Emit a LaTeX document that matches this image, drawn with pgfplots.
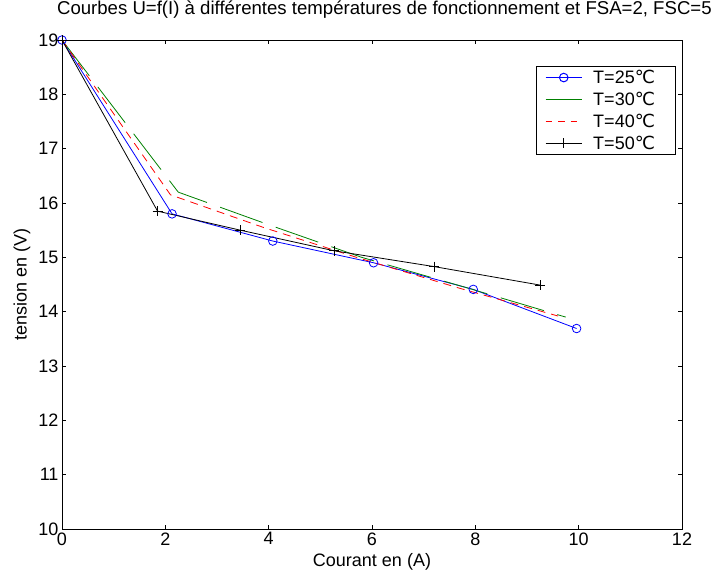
\documentclass[border=0pt]{standalone}
\usepackage{pgfplots}
\pgfplotsset{compat=1.18}
\usepackage{fontspec}
\setmainfont{Liberation Sans}
\newfontfamily\dejavu{DejaVu Sans}
\newcommand{\degC}{{\dejavu ℃}}
\definecolor{mgreen}{rgb}{0,0.5,0}
\begin{document}
\begin{tikzpicture}[font=\fontsize{18}{21}\selectfont]
\path[use as bounding box] (0pt,0pt) rectangle (722pt,579pt);
\begin{axis}[
  at={(62pt,50pt)}, anchor=south west, scale only axis,
  width=620pt, height=489pt,
  xmin=0, xmax=12, ymin=10, ymax=19,
  xtick={0,2,...,12}, ytick={10,11,...,19},
  tick align=inside, major tick length=4pt,
  axis line style={line width=0.9pt},
  every tick/.style={black, line width=0.6pt},
  /pgf/number format/assume math mode=true,
  tick label style={font=\fontsize{18}{21}\selectfont},
  label style={font=\fontsize{18}{21}\selectfont},
  xlabel={Courant en (A)}, ylabel={tension en (V)},
  xlabel style={at={(axis description cs:0.5,-0.0757)}, anchor=base},
  ylabel style={at={(axis description cs:-0.0645,0.5)}, anchor=center},
  title={Courbes U=f(I) à différentes températures de fonctionnement et FSA=2, FSC=5},
  title style={at={(axis description cs:0.52,1.0389)}, anchor=base, font=\fontsize{18.6}{22}\selectfont},
  legend style={at={(axis description cs:0.989,0.947)}, anchor=north east,
    draw=black, font=\fontsize{18}{21}\selectfont,
    row sep=3pt, inner xsep=9pt, inner ysep=2pt,
    nodes={inner xsep=11pt}},
  legend cell align=left,
  legend image code/.code={\draw[mark repeat=2,mark phase=2] plot coordinates {(0pt,0pt) (18pt,0pt) (36pt,0pt)};},
]
\addlegendimage{color=blue, draw=blue, line width=1pt, mark=o, mark size=4.3pt, mark options={solid, draw=blue}}
\addlegendentry{T=25\degC}
\addlegendimage{color=mgreen, draw=mgreen, line width=1pt}
\addlegendentry{T=30\degC}
\addlegendimage{color=red, draw=red, line width=1pt, dash pattern=on 6.5pt off 6pt}
\addlegendentry{T=40\degC}
\addlegendimage{color=black, draw=black, line width=1pt, mark=+, mark size=5pt, mark options={solid}}
\addlegendentry{T=50\degC}
\addplot[color=blue, line width=0.8pt, mark=o, mark size=4.3pt, mark options={solid}, forget plot] coordinates {
(0,19) (2.13,15.8) (4.08,15.3) (6.03,14.9) (7.96,14.41) (9.96,13.69)};
\addplot[color=mgreen, line width=0.8pt, dash pattern=on 45pt off 14pt, forget plot] coordinates {
(0,19) (2.25,16.2) (4.0,15.6) (5.8,15.0) (7.8,14.45) (9.75,13.9)};
\addplot[color=red, line width=0.8pt, dash pattern=on 8pt off 6pt, forget plot] coordinates {
(0,19) (2.1,16.15) (3.9,15.55) (5.7,15.0) (7.7,14.43) (9.6,13.92)};
\addplot[color=black, line width=0.8pt, mark=+, mark size=5pt, mark options={solid}, forget plot] coordinates {
(0,19) (1.85,15.85) (3.45,15.5) (5.27,15.12) (7.2,14.83) (9.25,14.49)};
\end{axis}
\end{tikzpicture}
\end{document}
